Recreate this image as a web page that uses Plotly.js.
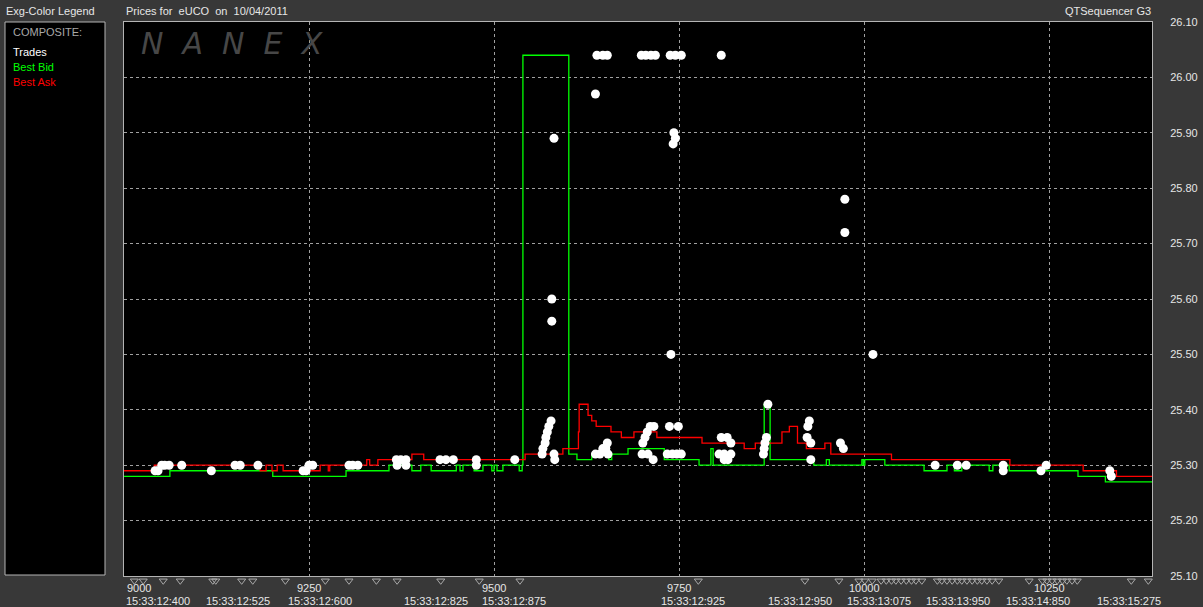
<!DOCTYPE html>
<html>
<head>
<meta charset="utf-8">
<script src="https://cdn.plot.ly/plotly-3.0.1.min.js"></script>
<style>
html,body{margin:0;padding:0;background:#383838;overflow:hidden;}
#chart{width:1203px;height:607px;}
</style>
</head>
<body>
<div id="chart"></div>
<script>
// ---------------- DATA ----------------
const bidSeq = [9000,9062,9201,9300,9358,9389,9401,9415,9449,9454,9458,9473,9485,9497,9500,9504,9512,9534,9538,9539,9601,9612,9632,9655,9659,9681,9730,9777,9793,9796,9865,9873,9932,9949,9953,9997,9999,10001,10028,10081,10112,10122,10132,10169,10174,10196,10289,10326,10389];
const bidPx  = [25.28,25.29,25.28,25.29,25.30,25.29,25.30,25.29,25.30,25.29,25.30,25.29,25.30,25.29,25.30,25.29,25.30,25.29,25.30,26.04,25.32,25.31,25.32,25.31,25.32,25.33,25.31,25.30,25.33,25.30,25.41,25.31,25.30,25.31,25.30,25.31,25.30,25.31,25.30,25.29,25.30,25.29,25.30,25.29,25.30,25.29,25.28,25.27,25.27];

const askSeq = [9000,9041,9184,9192,9200,9207,9215,9265,9276,9278,9328,9332,9343,9389,9405,9542,9593,9614,9615,9627,9632,9638,9658,9672,9689,9720,9781,9838,9853,9889,9899,9910,9922,9947,9955,10037,10197,10296,10341,10389];
const askPx  = [25.29,25.30,25.29,25.30,25.29,25.30,25.29,25.30,25.29,25.30,25.31,25.30,25.31,25.32,25.31,25.32,25.33,25.36,25.41,25.39,25.38,25.37,25.36,25.35,25.36,25.35,25.34,25.33,25.34,25.36,25.37,25.34,25.33,25.34,25.32,25.31,25.30,25.29,25.28,25.28];

const tradeSeq = [9042,9046,9051,9055,9061,9078,9118,9150,9157,9181,9242,9246,9250,9255,9304,9309,9316,9368,9374,9381,9369,9381,9427,9435,9445,9476,9476,9528,
  9565,9566,9569,9570,9572,9574,9577,9578,9578,9581,9581,9582,
  9637,9639,9647,9653,9637,9643,9647,9651,9653,9654,
  9699,9705,9712,9718,9700,9701,9704,9707,9708,9711,9716,9715,
  9734,9737,9738,9741,9739,9742,9743,9745,9745,9747,9749,9753,9753,
  9807,9804,9807,9811,9815,9816,9811,9820,9820,
  9864,9865,9866,9868,9870,9923,9924,9926,9928,9928,9968,9972,9974,9974,10012,
  10096,10126,10138,10188,10188,10239,10246,10332,10334];
const tradePx = [25.29,25.29,25.30,25.30,25.30,25.30,25.29,25.30,25.30,25.30,25.29,25.29,25.30,25.30,25.30,25.30,25.30,25.31,25.31,25.31,25.30,25.30,25.31,25.31,25.31,25.31,25.30,25.31,
  25.32,25.33,25.34,25.35,25.36,25.37,25.38,25.56,25.60,25.89,25.32,25.31,
  25.97,26.04,26.04,26.04,25.32,25.32,25.33,25.33,25.34,25.32,
  26.04,26.04,26.04,26.04,25.32,25.34,25.35,25.36,25.32,25.37,25.37,25.31,
  25.32,25.37,26.04,25.32,25.50,25.88,25.90,25.89,26.04,25.32,25.37,25.32,26.04,
  26.04,25.32,25.35,25.32,25.35,25.31,25.31,25.34,25.32,
  25.32,25.33,25.34,25.35,25.41,25.35,25.37,25.38,25.34,25.31,25.34,25.33,25.78,25.72,25.50,
  25.30,25.30,25.30,25.30,25.29,25.29,25.30,25.29,25.28];

// small trade tick markers under the axis
const tickMarkSeq = [9014,9026,9053,9076,9120,9124,9159,9174,9218,9272,9304,9341,9369,9428,9480,9535,9776,9920,9966,9993,10001,10011,10023,10030,10037,10043,10050,10057,10064,10070,10078,10099,10105,10112,10119,10126,10132,10139,10146,10153,10159,10166,10173,10182,10223,10241,10247,10254,10261,10268,10274,10281,10288,10361,10384];

const xTickVals = [9000,9250,9500,9750,10000,10250];
const xTickText = ['9000','9250','9500','9750','10000','10250'];
const timeSeq = [9046,9154,9265,9422,9527,9769,9914,10020,10127,10235,10358];
const timeText = ['15:33:12:400','15:33:12:525','15:33:12:600','15:33:12:825','15:33:12:875','15:33:12:925','15:33:12:950','15:33:13:075','15:33:13:950','15:33:14:850','15:33:15:275'];
const yTickVals = [25.10,25.20,25.30,25.40,25.50,25.60,25.70,25.80,25.90,26.00,26.10];

const legendItems = ['Trades','Best Bid','Best Ask'];
const legendColors = ['#ffffff','#00ff00','#ff0000'];

// ---------------- LAYOUT ----------------
const W = 1203, H = 607, L = 124, R = 1152, T = 22, B = 576, BP = 592;
const px = v => (v - L) / (R - L);
const py = v => (BP - v) / (BP - T);
const FONT = 'Liberation Sans, Arial, sans-serif';

const traces = [
  {x: bidSeq, y: bidPx, type: 'scatter', mode: 'lines', line: {shape: 'hv', color: '#00ff00', width: 1.3}, hoverinfo: 'skip'},
  {x: askSeq, y: askPx, type: 'scatter', mode: 'lines', line: {shape: 'hv', color: '#ff0000', width: 1.3}, hoverinfo: 'skip'},
  {x: tradeSeq, y: tradePx, type: 'scatter', mode: 'markers', marker: {color: '#ffffff', size: 9, line: {width: 0}}, hoverinfo: 'skip'},
  {x: tickMarkSeq, y: tickMarkSeq.map(() => 0.7), xaxis: 'x2', yaxis: 'y2', type: 'scatter', mode: 'markers', cliponaxis: false,
   marker: {symbol: 'triangle-down-open', color: '#a8a8a8', size: 7, line: {width: 1}}, hoverinfo: 'skip'}
];

const ann = [];
function txt(text, x, y, opts) {
  ann.push(Object.assign({text: text, x: x, y: y, xref: 'paper', yref: 'paper', showarrow: false,
    xanchor: 'left', yanchor: 'middle', font: {family: FONT, size: 11, color: '#e6e6e6'}}, opts || {}));
}
txt('Exg-Color Legend', px(4), py(11));
txt('Prices for&nbsp; eUCO&nbsp; on&nbsp; 10/04/2011', px(124), py(11));
txt('QTSequencer G3', px(1153), py(11), {xanchor: 'right'});
txt('COMPOSITE:', px(11), py(32), {font: {family: FONT, size: 11, color: '#a8a8a8'}});
legendItems.forEach((t, i) => txt(t, px(11), py(52 + 15 * i), {font: {family: FONT, size: 11, color: legendColors[i]}}));
txt('<i>N\u00a0\u00a0A\u00a0\u00a0N\u00a0\u00a0E\u00a0\u00a0X</i>', px(139), py(43), {font: {family: 'DejaVu Sans, sans-serif', size: 30, color: '#474747'}});

xTickVals.forEach((v, i) => ann.push({text: xTickText[i], x: v, y: py(588), xref: 'x', yref: 'paper', showarrow: false,
  xanchor: i === 0 ? 'left' : 'center', yanchor: 'middle', xshift: i === 0 ? 1 : 0,
  font: {family: FONT, size: 11, color: '#e6e6e6'}}));
timeSeq.forEach((v, i) => ann.push({text: timeText[i], x: v, y: py(601), xref: 'x', yref: 'paper', showarrow: false,
  xanchor: 'center', yanchor: 'middle', font: {family: FONT, size: 11, color: '#e6e6e6'}}));

const dMain = (BP - B) / (BP - T);
const layout = {
  width: W, height: H,
  margin: {l: L, r: W - R, t: T, b: H - BP, pad: 0},
  paper_bgcolor: '#383838', plot_bgcolor: '#383838',
  showlegend: false,
  font: {family: FONT, size: 11, color: '#e6e6e6'},
  xaxis: {range: [9000, 10389], anchor: 'y', tickvals: xTickVals, showticklabels: false, ticks: '',
    showgrid: true, gridcolor: '#a0a0a0', gridwidth: 1, griddash: '3px,3px', zeroline: false,
    showline: true, mirror: true, linecolor: '#b4b4b4', linewidth: 1, fixedrange: true},
  yaxis: {domain: [dMain, 1], range: [25.10, 26.10], tickvals: yTickVals, tickformat: '.2f', side: 'right', ticks: '',
    ticklabelstandoff: 15, tickfont: {family: FONT, size: 11, color: '#e6e6e6'},
    showgrid: true, gridcolor: '#a0a0a0', gridwidth: 1, griddash: '3px,3px', zeroline: false,
    showline: true, mirror: true, linecolor: '#b4b4b4', linewidth: 1, fixedrange: true},
  xaxis2: {range: [9000, 10389], anchor: 'y2', visible: false, showgrid: false, zeroline: false, fixedrange: true},
  yaxis2: {domain: [0, dMain], range: [0, 1], visible: false, showgrid: false, zeroline: false, fixedrange: true},
  shapes: [
    {type: 'rect', xref: 'paper', yref: 'paper', x0: px(5), x1: px(105), y0: py(575), y1: py(22),
     fillcolor: '#000000', line: {color: '#b4b4b4', width: 1}},
    {type: 'rect', xref: 'x', yref: 'y', x0: 9000, x1: 10389, y0: 25.10, y1: 26.10,
     fillcolor: '#000000', line: {width: 0}, layer: 'below'}
  ],
  annotations: ann
};

Plotly.newPlot('chart', traces, layout, {staticPlot: true, displayModeBar: false});
</script>
</body>
</html>
